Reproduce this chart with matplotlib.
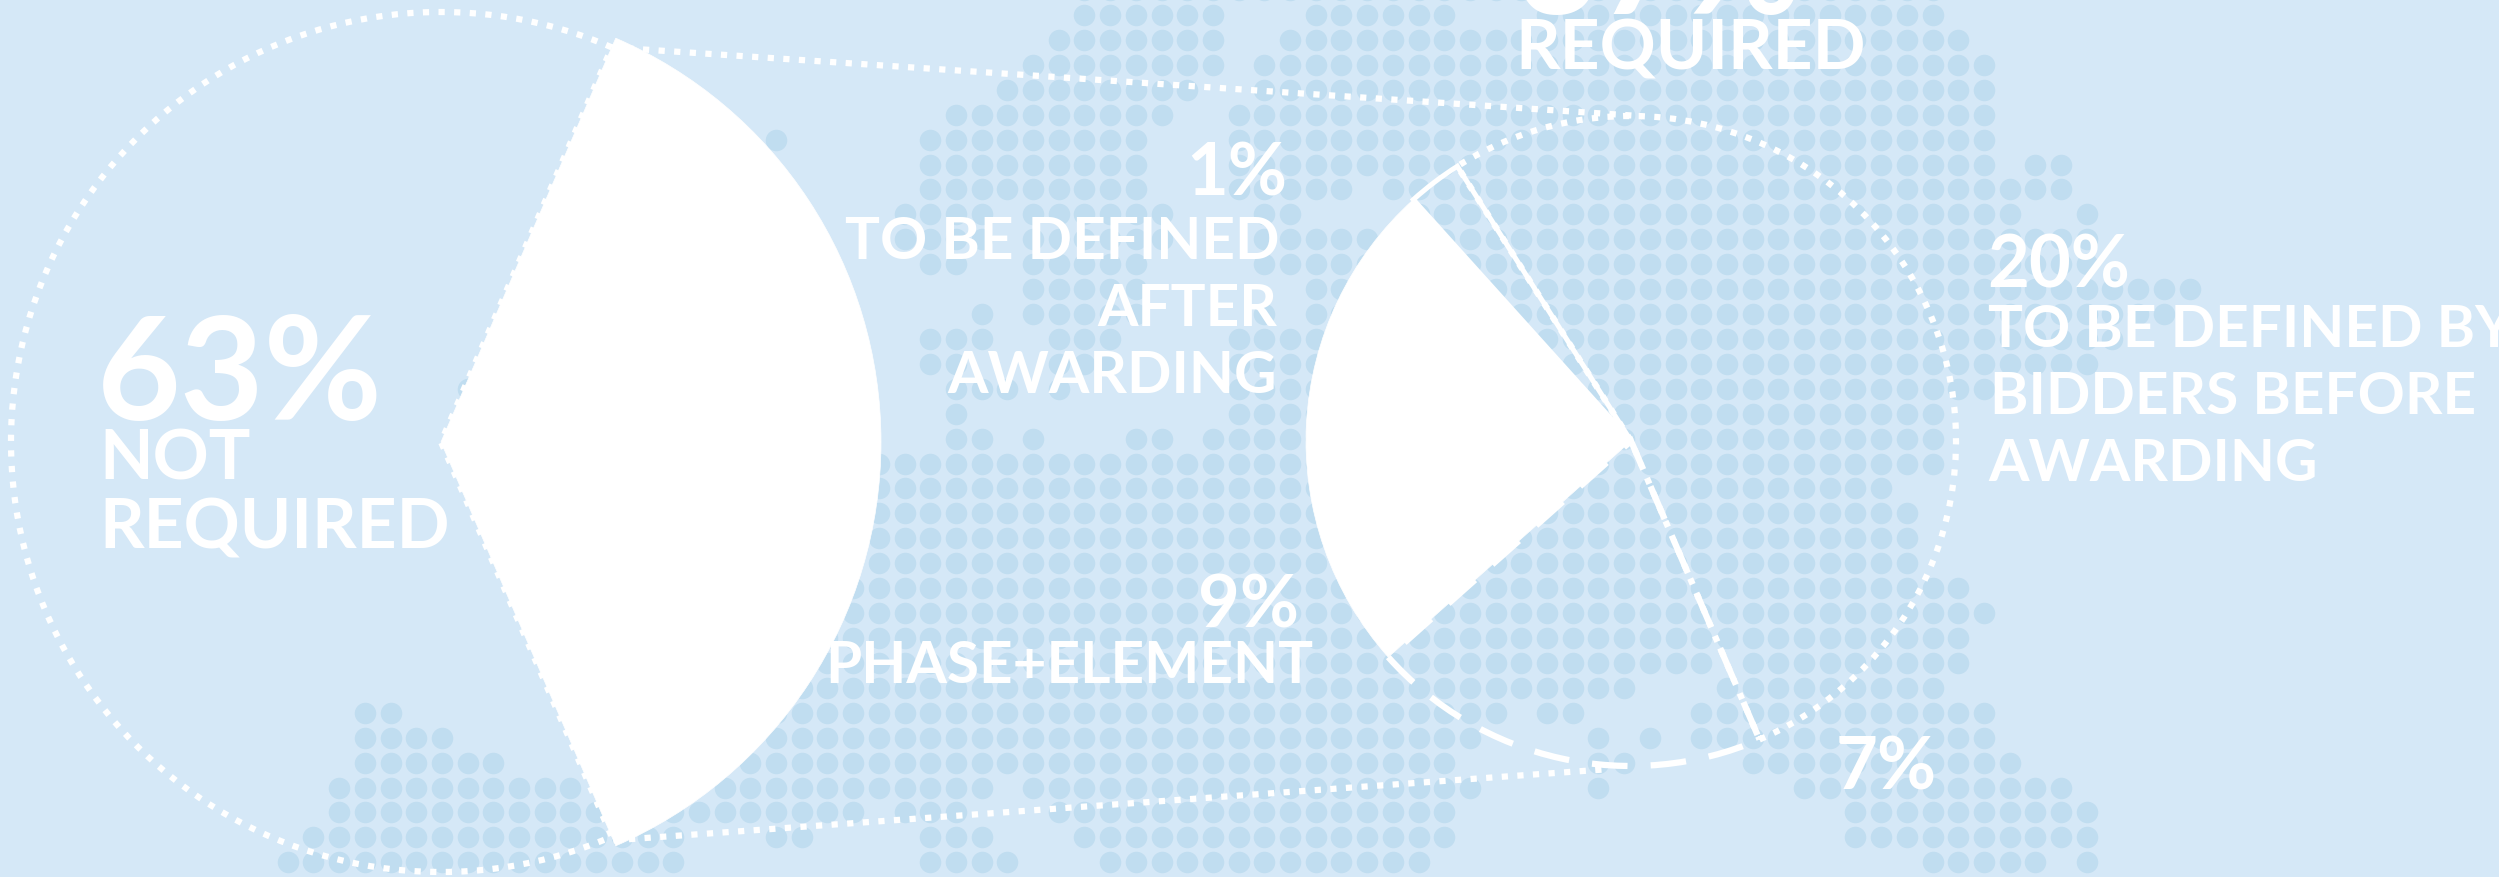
import matplotlib
matplotlib.use('Agg')
import matplotlib.pyplot as plt
import numpy as np

W, H = 2499, 878

# shares of the two pies
main_labels = ['not required', 'required']
main_shares = [63, 37]
detail_labels = ['after awarding', 'phase+element', 'other', 'by bidders']
detail_shares = [1.0, 9.2, 7.35, 19.4]

# background dot map: for each grid row, runs of filled columns
map_rows = {
    -1: [(42, 75)],
    0: [(42, 47), (51, 56), (60, 75)],
    1: [(41, 47), (50, 76)],
    2: [(40, 47), (49, 77)],
    3: [(39, 46), (49, 77)],
    4: [(37, 45), (48, 77)],
    5: [(30, 30), (36, 44), (48, 77)],
    6: [(36, 44), (48, 77), (79, 80)],
    7: [(36, 44), (48, 52), (54, 80)],
    8: [(35, 38), (40, 45), (49, 50), (55, 78), (81, 81)],
    9: [(35, 38), (40, 45), (49, 81)],
    10: [(36, 37), (40, 44), (49, 81)],
    11: [(40, 44), (51, 85)],
    12: [(38, 38), (40, 44), (49, 49), (51, 84)],
    13: [(36, 38), (41, 43), (48, 82)],
    14: [(36, 37), (41, 43), (48, 81)],
    15: [(18, 18), (37, 39), (41, 41), (48, 77)],
    16: [(37, 37), (48, 75)],
    17: [(37, 38), (40, 40), (44, 45), (47, 75)],
    18: [(34, 75)],
    19: [(34, 73)],
    20: [(34, 74)],
    21: [(34, 74)],
    22: [(34, 74)],
    23: [(33, 76)],
    24: [(33, 77)],
    25: [(32, 76)],
    26: [(31, 66), (68, 76)],
    27: [(31, 63), (67, 75)],
    28: [(14, 15), (30, 58), (60, 61), (66, 77)],
    29: [(14, 17), (30, 57), (62, 62), (64, 64), (66, 77)],
    30: [(14, 19), (29, 56), (62, 63), (68, 78)],
    31: [(13, 22), (28, 38), (40, 57), (62, 62), (70, 80)],
    32: [(13, 33), (35, 37), (41, 56), (72, 81)],
    33: [(12, 26), (30, 31), (36, 38), (42, 56), (72, 81)],
    34: [(11, 26), (36, 39), (43, 55), (75, 79), (81, 81)],
}

# text, size class, alignment, x and baseline in image pixels
big_labels = [('63%', 97, 420), ('37%', 1515, 14)]
mid_labels = [('1%', 1287, 195, 'right'), ('9%', 1299, 627, 'right'),
              ('20%', 1987, 288, 'left'), ('7%', 1836, 790, 'left')]
required_labels = [('NOT', 99, 480), ('REQUIRED', 99, 548), ('REQUIRED', 1515, 69)]
small_labels = [('TO BE DEFINED', 1279, 259, 'right'), ('AFTER', 1277, 326, 'right'),
                ('AWARDING', 1277, 393, 'right'), ('PHASE+ELEMENT', 1313, 683, 'right'),
                ('TO BE DEFINED BY', 1988, 347, 'left'), ('BIDDERS BEFORE', 1990, 414, 'left'),
                ('AWARDING', 1988, 481, 'left')]

BG = '#d5e8f7'
DOT = '#c0ddf0'
DOTTED = (0, (1, 1.5))
DASHED = (0, (5.7, 3.7))
LW = 4.5
BIG_C = (441, H - 443)
SMALL_C = (1631, H - 442)

plt.rcParams['font.family'] = 'Lato'
fig = plt.figure(figsize=(W / 100, H / 100), dpi=100, facecolor=BG)
ax = fig.add_axes([0, 0, 1, 1])

cols, rows = [], []
for r, runs in map_rows.items():
    for a, b in runs:
        for c in range(a, b + 1):
            cols.append(c)
            rows.append(r)
ax.scatter(5 + 25.7 * np.array(cols), H - (16 + 24.92 * np.array(rows)),
           s=240, color=DOT, linewidths=0, zorder=1)

# big pie: 63% outlined, 37% solid
big, _ = ax.pie(main_shares, center=BIG_C, radius=440, startangle=66.6, frame=True)
big[0].set(radius=430, facecolor='none', edgecolor='white', linewidth=LW, linestyle=DOTTED, zorder=3)
big[1].set(facecolor='white', edgecolor='white', linewidth=0.5, zorder=4)

# detail pie of the 37%
small, _ = ax.pie(detail_shares, center=SMALL_C, radius=325, startangle=122.3, frame=True)
small[0].set(facecolor='none', edgecolor='white', linewidth=LW * 0.8, zorder=3)
small[1].set(facecolor='white', edgecolor='white', linewidth=0.5, zorder=4)
small[2].set(facecolor='none', edgecolor='white', linewidth=LW, linestyle=DASHED, zorder=3)
small[3].set(facecolor='none', edgecolor='white', linewidth=LW, linestyle=DOTTED, zorder=3)


def on_circle(center, r, deg):
    return center[0] + r * np.cos(np.radians(deg)), center[1] + r * np.sin(np.radians(deg))


# connectors between the pies
for p, q in [(on_circle(BIG_C, 430, 66.6), on_circle(SMALL_C, 325, 88)),
             (on_circle(BIG_C, 434, -66.6), on_circle(SMALL_C, 329, -94))]:
    ax.plot([p[0], q[0]], [p[1], q[1]], color='white', lw=LW, ls=DOTTED, zorder=3)

ax.set_xlim(0, W)
ax.set_ylim(0, H)
ax.set_aspect('equal')
ax.axis('off')

for s, x, y in big_labels:
    ax.text(x, H - y, s, fontsize=104, fontweight='bold', color='white', va='baseline', ha='left', zorder=5)
for s, x, y, ha in mid_labels:
    ax.text(x, H - y, s, fontsize=52, fontweight='bold', color='white', va='baseline', ha=ha, zorder=5)
for s, x, y in required_labels:
    ax.text(x, H - y, s, fontsize=50, fontweight='bold', color='white', va='baseline', ha='left', zorder=5)
for s, x, y, ha in small_labels:
    ax.text(x, H - y, s, fontsize=42, fontweight='bold', color='white', va='baseline', ha=ha, zorder=5)

fig.savefig('out.png', dpi=100, facecolor=BG)
